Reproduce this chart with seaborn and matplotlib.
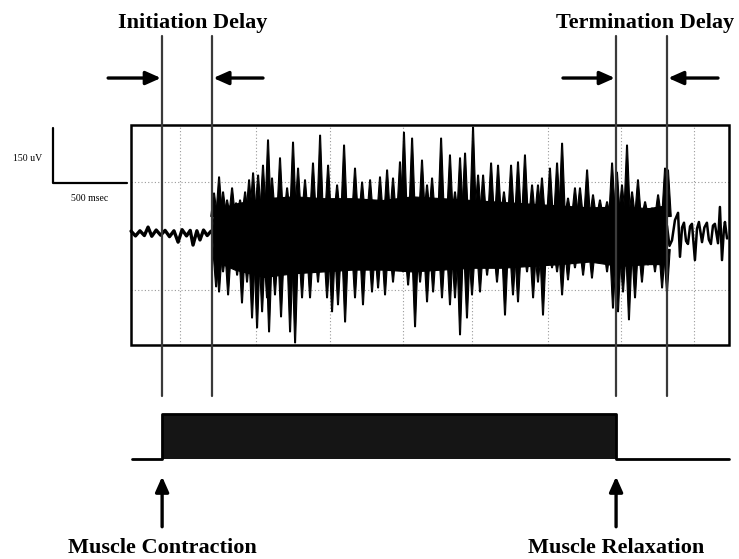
import numpy as np
import pandas as pd
import matplotlib
matplotlib.use("Agg")
import matplotlib.pyplot as plt
import seaborn as sns

# time in ms from the left edge of the recording window, amplitude in uV
events = [210, 548, 3279, 3623]  # contraction, EMG onset, relaxation, EMG offset

# quiet baseline before onset
pre_t = [0, 30, 60, 90, 115, 140, 170, 200, 230, 260, 290, 318, 345, 375, 400,
         419, 445, 466, 490, 515, 541]
pre_v = [5, -8, 6, -7, 16, -9, 8, -6, 7, -10, 6, -25, 9, -8, 7, -33, 6, -19, 8, -7, 5]

# positive spikes during activity
up_t = [561, 595, 622, 649, 683, 710, 737, 771, 798, 825, 859, 892,
        926, 953, 1007, 1055, 1095, 1129, 1176, 1230, 1278, 1332, 1393, 1440, 1514,
        1562, 1616, 1683, 1731, 1771, 1818,
        1845, 1900, 1967, 2001, 2035, 2096, 2156, 2190, 2224, 2258, 2312, 2346, 2380,
        2434, 2481, 2521, 2569, 2616, 2663, 2711, 2751,
        2778, 2832, 2880, 2914, 2954, 3001, 3035, 3083, 3123, 3170, 3218, 3252, 3285,
        3319, 3353, 3387, 3427, 3475, 3522, 3563, 3610, 3630]
up_v = [109, 153, 112, 90, 123, 82, 90, 112, 145, 164, 158, 185,
        254, 150, 205, 123, 248, 177, 145, 191, 267, 185, 131, 240, 177, 139, 145, 153,
        172, 150, 194,
        275, 259, 199, 131, 150, 259, 213, 112, 205, 218, 289, 158, 158, 191, 185, 112,
        185, 194, 213, 131, 131,
        150, 177, 191, 245, 95, 123, 123, 172, 104, 90, 85, 191, 166, 131, 240, 112,
        145, 85, 68, 104, 177, 172]

# negative spikes during activity (depth below baseline)
low_t = [575, 595, 622, 656, 717, 750, 784, 818, 852, 886, 919,
         933, 973, 1014, 1075, 1109, 1156, 1210, 1264, 1325, 1359, 1399, 1447, 1514,
         1568, 1629, 1670, 1717, 1771, 1818,
         1839, 1873, 1920, 1954, 2001, 2042, 2102, 2156, 2190, 2224, 2271, 2305, 2359,
         2407, 2474, 2528, 2582, 2616, 2677, 2718,
         2751, 2785, 2846, 2880, 2914, 2954, 3001, 3056, 3116, 3157, 3218, 3258, 3292,
         3326, 3366, 3407, 3454, 3495, 3542, 3590, 3623]
low_v = [147, 161, 106, 169, 115, 191, 134, 232, 259, 215, 177,
         270, 169, 229, 270, 300, 177, 177, 134, 177, 215, 196, 243, 177, 196, 161,
         150, 169, 134, 95,
         106, 142, 256, 134, 188, 161, 177, 196, 177, 278, 232, 169, 161, 115, 134,
         224, 169, 188, 106, 177,
         134, 224, 95, 106, 169, 128, 95, 115, 123, 79, 106, 205, 215, 161, 237, 177,
         134, 87, 106, 150, 161]

# solid dense core of the burst
core_t = [548, 560, 700, 900, 1100, 1300, 1500, 1700, 1900, 2100, 2300, 2500, 2700,
          2900, 3100, 3300, 3500, 3610, 3623]
core_hi = [10, 60, 80, 95, 100, 95, 95, 90, 100, 95, 90, 85, 80, 75, 70, 72,
           68, 75, 20]
core_lo = [-10, -75, -100, -120, -110, -105, -100, -100, -105, -100, -95, -95,
           -90, -85, -78, -90, -85, -85, -20]

# quiet baseline after offset
post_t = [3623, 3640, 3657, 3677, 3698, 3711, 3725, 3738, 3752, 3765, 3779, 3792,
          3812, 3826, 3839, 3860, 3876, 3893, 3906, 3920, 3934, 3947, 3968, 3981,
          3995, 4008, 4015, 4029]
post_v = [20, -35, -20, 35, 55, -65, 15, 28, -22, -30, 18, 25, -74, 12, 30, -25, 15,
          28, -18, -30, 20, 25, -28, 71, -74, 10, 30, -15]

grid_t = [330, 845, 1345, 1840, 2305, 2820, 3310, 3805]
grid_v = [140, -155]

sns.set_style("white")
plt.rcParams["font.family"] = ["Liberation Serif", "DejaVu Serif"]
plt.rcParams["text.color"] = "black"

fig = plt.figure(figsize=(7.39, 5.59), dpi=100)
ax = fig.add_axes([0, 0, 1, 1])
ax.set_xlim(-886, 4110)
ax.set_ylim(-890, 636)
ax.axis("off")

box_l, box_r, box_b, box_t = 0, 4042, -305, 295

# grid inside the window
for g in grid_t:
    ax.plot([g, g], [box_b, box_t], color="#9a9a9a", lw=0.8, ls=(0, (1, 2)), zorder=1)
for g in grid_v:
    ax.plot([box_l, box_r], [g, g], color="#9a9a9a", lw=0.8, ls=(0, (1, 2)), zorder=1)

# EMG burst: dense core plus individual spikes rising from its edge
ax.fill_between(core_t, core_lo, core_hi, color="black", lw=0.8, ec="black", zorder=2)
half, tip, base = 22, 3, 45
spikes = pd.DataFrame({"t": up_t + low_t, "v": up_v + [-v for v in low_v]})
for t, v in zip(spikes["t"], spikes["v"]):
    b = base if v > 0 else -base
    ax.fill([t - half, t - tip, t + tip, t + half], [b, v, v, b],
            color="black", lw=0.8, zorder=3)

sns.lineplot(x=pre_t, y=pre_v, estimator=None, sort=False, color="black", lw=2.4,
             ax=ax, zorder=3)
sns.lineplot(x=post_t, y=post_v, estimator=None, sort=False, color="black", lw=1.8,
             ax=ax, zorder=3)

ax.add_patch(plt.Rectangle((box_l, box_b), box_r - box_l, box_t - box_b,
                           fill=False, ec="black", lw=1.8, zorder=4))

# scale bar
ax.plot([-527, -527, -27], [286, 136, 136], color="black", lw=1.6)
ax.text(-703, 202, "150 uV", fontsize=7, ha="center", va="center")
ax.text(-277, 93, "500 msec", fontsize=7, ha="center", va="center")

# event markers
for e in events:
    ax.plot([e, e], [-445, 537], color="#3a3a3a", lw=1.6, zorder=5)

arrow = dict(arrowstyle="-|>,head_length=0.9,head_width=0.4", color="black", lw=2.4,
             shrinkA=0, shrinkB=0)
ax.annotate("", xy=(events[0] - 8, 423), xytext=(-155, 423), arrowprops=arrow)
ax.annotate("", xy=(events[1] + 8, 423), xytext=(892, 423), arrowprops=arrow)
ax.annotate("", xy=(events[2] - 8, 423), xytext=(2920, 423), arrowprops=arrow)
ax.annotate("", xy=(events[3] + 8, 423), xytext=(3968, 423), arrowprops=arrow)

ax.text(419, 573, "Initiation Delay", fontsize=16, fontweight="bold",
        ha="center", va="center")
ax.text(3475, 573, "Termination Delay", fontsize=16, fontweight="bold",
        ha="center", va="center")

# contraction trace
rest, on = -616, -494
ax.fill_between([events[0], events[2]], rest, on, color="#151515", lw=0)
sns.lineplot(x=[7, events[0], events[0], events[2], events[2], box_r],
             y=[rest, rest, on, on, rest, rest], estimator=None, sort=False,
             color="black", lw=2.0, ax=ax)

ax.annotate("", xy=(events[0], -665), xytext=(events[0], -802), arrowprops=arrow)
ax.annotate("", xy=(events[2], -665), xytext=(events[2], -802), arrowprops=arrow)
ax.text(events[0], -859, "Muscle Contraction", fontsize=16, fontweight="bold",
        ha="center", va="center")
ax.text(events[2], -859, "Muscle Relaxation", fontsize=16, fontweight="bold",
        ha="center", va="center")

fig.savefig("out.png", dpi=100)
